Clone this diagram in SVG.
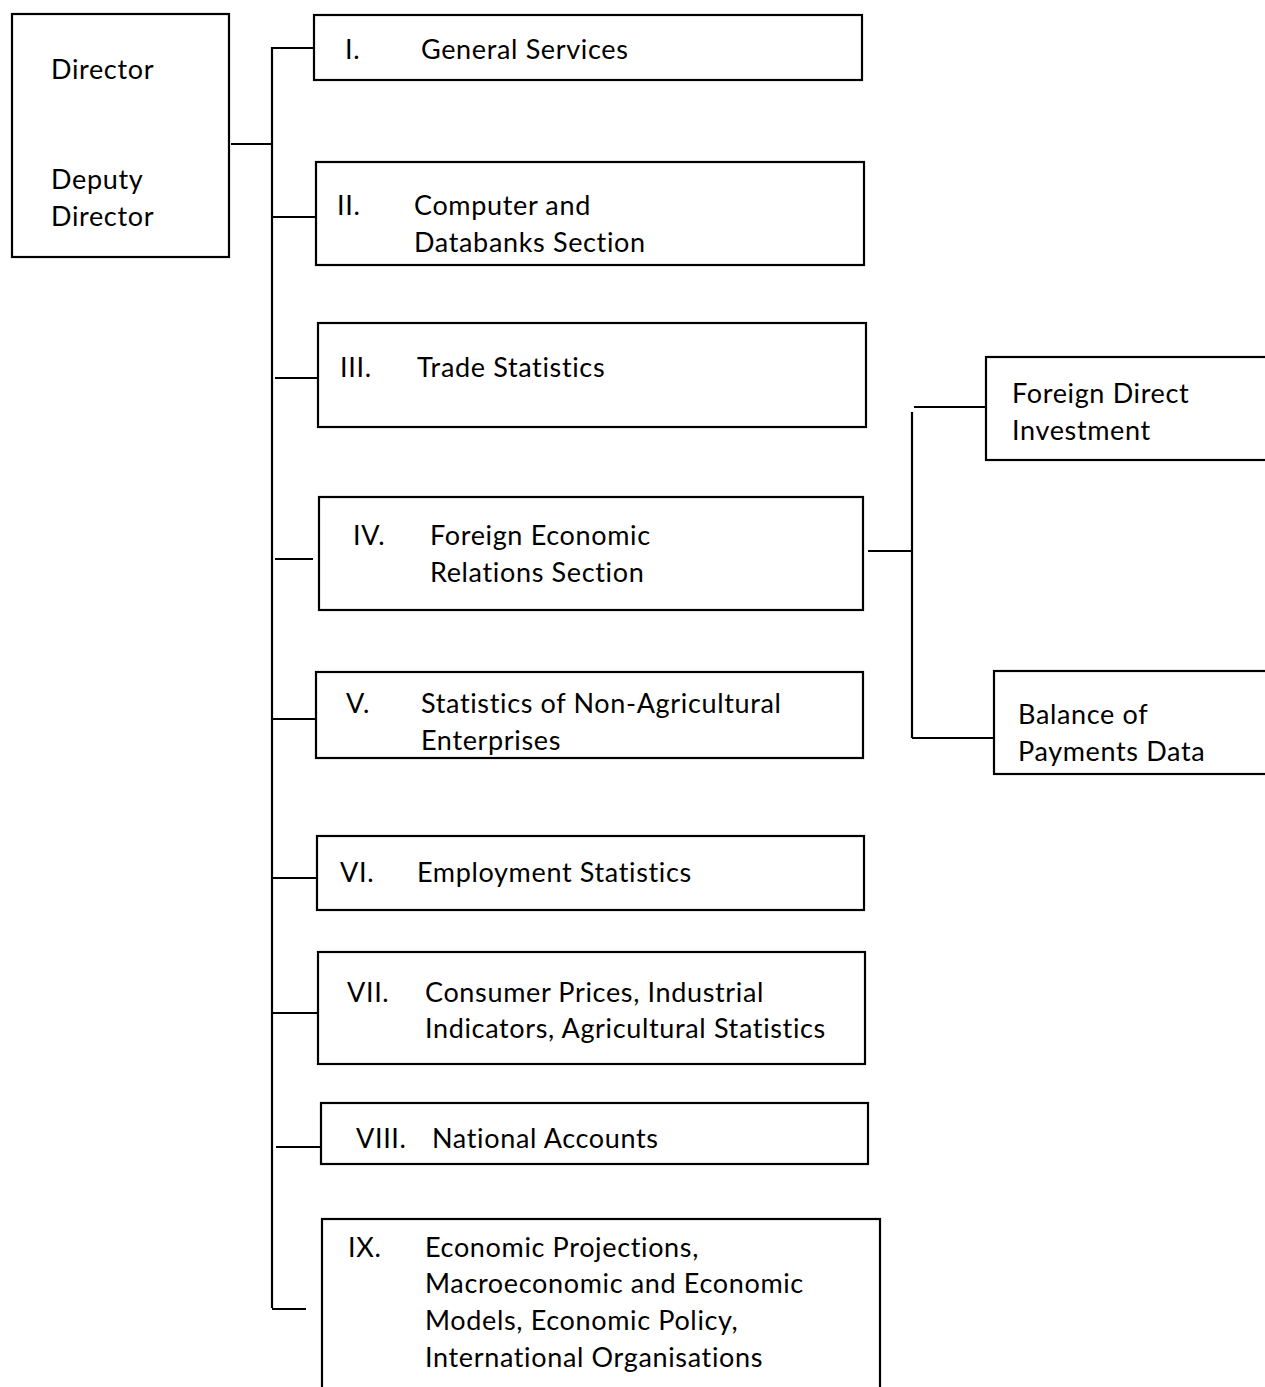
<svg xmlns="http://www.w3.org/2000/svg" width="1265" height="1387" viewBox="0 0 1265 1387">
<style>
.box{fill:#fff;stroke:#000;stroke-width:2.2}
.ln{stroke:#000;stroke-width:2.2;fill:none}
.t{font-family:Lato,"Open Sans","Liberation Sans",sans-serif;font-size:27px;letter-spacing:0.65px;fill:#000}
</style>
<rect width="1265" height="1387" fill="#fff"/>
<g id="connectors">
<line class="ln" x1="231" y1="144" x2="272" y2="144"/>
<line class="ln" x1="272" y1="47" x2="272" y2="1308"/>
<line class="ln" x1="272" y1="48" x2="314" y2="48"/>
<line class="ln" x1="272" y1="217" x2="316" y2="217"/>
<line class="ln" x1="275" y1="378" x2="318" y2="378"/>
<line class="ln" x1="275" y1="559" x2="313" y2="559"/>
<line class="ln" x1="272" y1="719" x2="316" y2="719"/>
<line class="ln" x1="272" y1="878" x2="317" y2="878"/>
<line class="ln" x1="272" y1="1013" x2="318" y2="1013"/>
<line class="ln" x1="276" y1="1147" x2="320" y2="1147"/>
<line class="ln" x1="272" y1="1309" x2="306" y2="1309"/>
<line class="ln" x1="868" y1="551" x2="912" y2="551"/>
<line class="ln" x1="912" y1="412" x2="912" y2="738"/>
<line class="ln" x1="914" y1="407" x2="986" y2="407"/>
<line class="ln" x1="912" y1="738" x2="997" y2="738"/>
</g>
<g id="director">
<rect class="box" x="12" y="14" width="217" height="243"/>
<text class="t" x="51" y="79">Director</text>
<text class="t" x="51" y="189">Deputy</text>
<text class="t" x="51" y="226">Director</text>
</g>
<g id="sec1">
<rect class="box" x="314" y="15" width="548" height="65"/>
<text class="t" x="345" y="59">I.</text>
<text class="t" x="421" y="59">General Services</text>
</g>
<g id="sec2">
<rect class="box" x="316" y="162" width="548" height="103"/>
<text class="t" x="337" y="215">II.</text>
<text class="t" x="414" y="215">Computer and</text>
<text class="t" x="414" y="252">Databanks Section</text>
</g>
<g id="sec3">
<rect class="box" x="318" y="323" width="548" height="104"/>
<text class="t" x="340" y="377">III.</text>
<text class="t" x="417" y="377">Trade Statistics</text>
</g>
<g id="sec4">
<rect class="box" x="319" y="497" width="544" height="113"/>
<text class="t" x="353" y="545">IV.</text>
<text class="t" x="430" y="545">Foreign Economic</text>
<text class="t" x="430" y="582">Relations Section</text>
</g>
<g id="sec5">
<rect class="box" x="316" y="672" width="547" height="86"/>
<text class="t" x="346" y="713">V.</text>
<text class="t" x="421" y="713">Statistics of Non-Agricultural</text>
<text class="t" x="421" y="750">Enterprises</text>
</g>
<g id="sec6">
<rect class="box" x="317" y="836" width="547" height="74"/>
<text class="t" x="340" y="882">VI.</text>
<text class="t" x="417" y="882">Employment Statistics</text>
</g>
<g id="sec7">
<rect class="box" x="318" y="952" width="547" height="112"/>
<text class="t" x="347" y="1002">VII.</text>
<text class="t" x="425" y="1002">Consumer Prices, Industrial</text>
<text class="t" x="425" y="1038">Indicators, Agricultural Statistics</text>
</g>
<g id="sec8">
<rect class="box" x="321" y="1103" width="547" height="61"/>
<text class="t" x="356" y="1148">VIII.</text>
<text class="t" x="432" y="1148">National Accounts</text>
</g>
<g id="sec9">
<rect class="box" x="322" y="1219" width="558" height="200"/>
<text class="t" x="348" y="1257">IX.</text>
<text class="t" x="425" y="1257">Economic Projections,</text>
<text class="t" x="425" y="1293">Macroeconomic and Economic</text>
<text class="t" x="425" y="1330">Models, Economic Policy,</text>
<text class="t" x="425" y="1367">International Organisations</text>
</g>
<g id="fdi">
<rect class="box" x="986" y="357" width="300" height="103"/>
<text class="t" x="1012" y="403">Foreign Direct</text>
<text class="t" x="1012" y="440">Investment</text>
</g>
<g id="bop">
<rect class="box" x="994" y="671" width="300" height="103"/>
<text class="t" x="1018" y="724">Balance of</text>
<text class="t" x="1018" y="761">Payments Data</text>
</g>
</svg>
